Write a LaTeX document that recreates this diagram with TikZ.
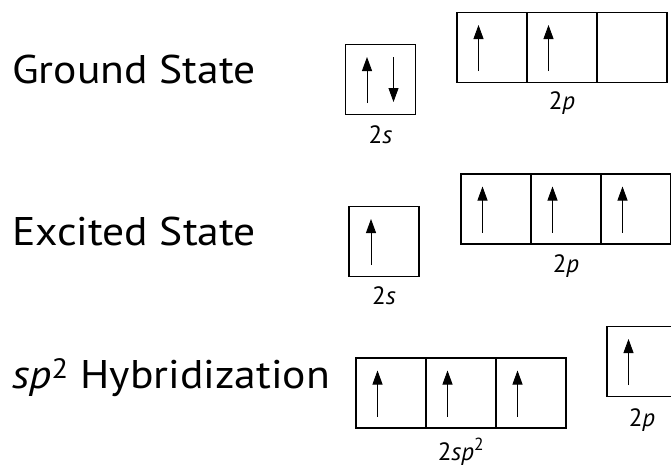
\documentclass[tikz,border=0pt]{standalone}
\usepackage{fontspec}
\setmainfont{PT Sans}
\usetikzlibrary{positioning, arrows.meta, calc}

% electron spins inside an orbital box
\newcommand{\upspin}[2][-13.5pt]{\draw[spin] ([xshift=#1,yshift=-23.5pt]#2.center) -- ([xshift=#1,yshift=22.5pt]#2.center);}
\newcommand{\dnspin}[2][13pt]{\draw[spin] ([xshift=#1,yshift=22.5pt]#2.center) -- ([xshift=#1,yshift=-22.5pt]#2.center);}

\begin{document}
\begin{tikzpicture}[
  x=1pt, y=-1pt,
  orb/.style={draw=black, line width=1.4pt, rectangle, minimum size=70pt, inner sep=0pt, outer sep=0pt},
  spin/.style={-{Triangle[length=14pt,width=10pt]}, line width=0.9pt},
  state/.style={anchor=base west, inner sep=0pt, font=\fontsize{40}{48}\selectfont\addfontfeature{FakeStretch=1.09}},
  sub/.style={anchor=base, inner sep=0pt, font=\fontsize{25}{30}\selectfont}
]
  \useasboundingbox (0,0) rectangle (671,466);
  \clip (0,0) rectangle (671,466);

  % row labels
  \node[state] (ground) at (12,83) {Ground State};
  \node[state] (excited) at (12,245) {Excited State};
  \node[state] (hybrid) at (12,388) {\textit{sp}\textsuperscript{2} Hybridization};

  % ground state
  \node[orb] (g2s) at (380.5,79.5) {};
  \node[orb] (g2pa) at (492,47.5) {};
  \node[orb, right=0pt of g2pa] (g2pb) {};
  \node[orb, right=0pt of g2pb] (g2pc) {};
  \upspin{g2s}
  \dnspin{g2s}
  \upspin{g2pa}
  \upspin{g2pb}
  \node[sub] (g2slbl) at ([yshift=-29pt]g2s.south) {2\textit{s}};
  \node[sub] (g2plbl) at ([yshift=-27pt]g2pb.south) {2\textit{p}};

  % excited state
  \node[orb] (e2s) at (384,241.5) {};
  \node[orb] (e2pa) at (496,209) {};
  \node[orb, right=0pt of e2pa] (e2pb) {};
  \node[orb, right=0pt of e2pb] (e2pc) {};
  \upspin[-13pt]{e2s}
  \upspin{e2pa}
  \upspin{e2pb}
  \upspin{e2pc}
  \node[sub] (e2slbl) at ([yshift=-28pt]e2s.south) {2\textit{s}};
  \node[sub] (e2plbl) at ([yshift=-28pt]e2pb.south) {2\textit{p}};

  % sp2 hybridization
  \node[orb] (hspa) at (391,393) {};
  \node[orb, right=0pt of hspa] (hspb) {};
  \node[orb, right=0pt of hspb] (hspc) {};
  \node[orb] (h2p) at (642,361.5) {};
  \upspin{hspa}
  \upspin{hspb}
  \upspin{hspc}
  \upspin{h2p}
  \node[sub] (hsplbl) at ([yshift=-32pt]hspb.south) {2\textit{sp}\textsuperscript{2}};
  \node[sub] (h2plbl) at ([yshift=-30pt]h2p.south) {2\textit{p}};
\end{tikzpicture}
\end{document}
